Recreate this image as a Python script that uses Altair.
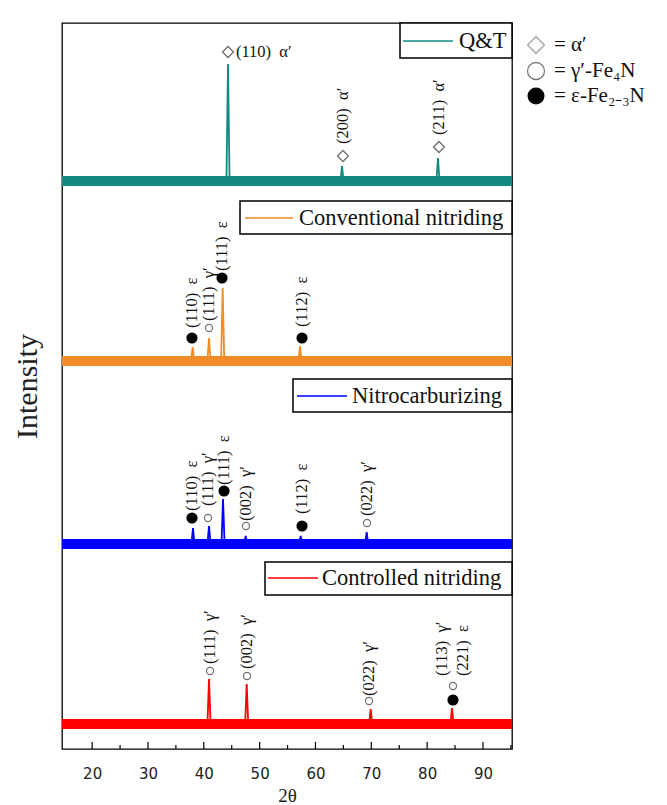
import altair as alt
import pandas as pd

# ---------------- data ----------------
X_MIN, X_MAX = 14.6, 95.2
Y_MAX = 726

SERIES = ["Q&T", "Conventional nitriding", "Nitrocarburizing", "Controlled nitriding"]
COLORS = ["#138a80", "#f28c28", "#0000ff", "#ff0000"]
BASELINES = [568, 388, 205, 25]
PEAK_POS = [
    [44.33, 64.75, 81.94],
    [38.0, 40.93, 43.38, 57.23],
    [38.06, 40.93, 43.44, 47.5, 57.35, 69.17],
    [40.93, 47.68, 69.89, 84.45],
]
PEAK_HEIGHT = [
    [117, 15, 23],
    [14, 23, 73, 15],
    [16, 18, 45, 8, 8, 12],
    [45, 40, 15, 16],
]
NOISE = 5          # half thickness of the noisy baseline band
PEAK_HALF = 0.28   # half width of a peak, degrees

NB = "\u00a0"  # non-breaking space keeps the gap in labels

# rotated peak labels
ANN_X = [64.93, 82.12,
         37.88, 40.93, 43.26, 57.59,
         37.88, 40.75, 43.62, 47.55, 57.59, 69.23,
         41.11, 47.73, 69.59, 82.66, 86.42]
ANN_Y = [605, 614,
         421, 428, 478, 422,
         238, 243, 264, 228, 235, 233,
         85, 80, 53, 73, 73]
ANN_TEXT = ["(200)" + NB * 2 + "α′", "(211)" + NB * 2 + "α′",
            "(110)" + NB * 2 + "ε", "(111)" + NB * 2 + "γ′", "(111)" + NB * 2 + "ε", "(112)" + NB * 2 + "ε",
            "(110)" + NB * 2 + "ε", "(111)" + NB * 2 + "γ′", "(111)" + NB * 2 + "ε",
            "(002)" + NB * 2 + "γ′", "(112)" + NB * 2 + "ε", "(022)" + NB * 2 + "γ′",
            "(111)" + NB * 2 + "γ′", "(002)" + NB * 2 + "γ′", "(022)" + NB * 2 + "γ′",
            "(113)" + NB * 2 + "γ′", "(221)" + NB * 2 + "ε"]

# horizontal label
HANN_X = [45.76]
HANN_Y = [697]
HANN_TEXT = ["(110)" + NB * 2 + "α′"]

# phase markers
DIAMOND_X = [44.33, 64.93, 82.12]
DIAMOND_Y = [697, 593, 602]
OPEN_X = [40.93, 40.75, 47.55, 69.23, 41.11, 47.73, 69.59, 84.63]
OPEN_Y = [421, 231, 223, 226, 78, 73, 48, 63]
FILLED_X = [37.88, 43.26, 57.59, 37.88, 43.62, 57.59, 84.63]
FILLED_Y = [411, 471, 411, 231, 258, 223, 49]

MAJOR_TICKS = [20, 30, 40, 50, 60, 70, 80, 90]
MINOR_TICKS = [25, 35, 45, 55, 65, 75, 85, 95]

# legend boxes (pixel layout inside plot)
BOX_LAYOUT = [
    # x0, x1, y0, y1, line x0, line x1, text x, y centre
    (338, 450, 0, 35, 341, 391, 397, 18),
    (178, 450, 178, 211, 183, 231, 237, 195),
    (231, 450, 356, 389, 235, 285, 290, 373),
    (203, 450, 539, 572, 206, 256, 260, 555),
]

PHASE_LABELS = ["= α′", "= γ′-Fe₄N", "= ε-Fe₂₋₃N"]

# ---------------- build tables ----------------
rows = []
band_rows = []
for s, base, pos, hts in zip(SERIES, BASELINES, PEAK_POS, PEAK_HEIGHT):
    pts = [(X_MIN, base)]
    for p, h in zip(pos, hts):
        pts += [(p - PEAK_HALF, base), (p, base + h), (p + PEAK_HALF, base)]
    pts.append((X_MAX, base))
    for t, v in pts:
        rows.append({"series": s, "theta": t, "intensity": v})
    for t in (X_MIN, X_MAX):
        band_rows.append({"series": s, "theta": t, "intensity": base - NOISE, "hi": base + NOISE})
spec = pd.DataFrame(rows)
band = pd.DataFrame(band_rows)

ann = pd.DataFrame({"theta": ANN_X, "intensity": ANN_Y, "label": ANN_TEXT})
hann = pd.DataFrame({"theta": HANN_X, "intensity": HANN_Y, "label": HANN_TEXT})
dia = pd.DataFrame({"theta": DIAMOND_X, "intensity": DIAMOND_Y})
opn = pd.DataFrame({"theta": OPEN_X, "intensity": OPEN_Y})
fil = pd.DataFrame({"theta": FILLED_X, "intensity": FILLED_Y})
ticks_major = pd.DataFrame({"theta": MAJOR_TICKS})
ticks_minor = pd.DataFrame({"theta": MINOR_TICKS})

SERIF = "Liberation Serif"

xscale = alt.Scale(domain=[X_MIN, X_MAX], nice=False, zero=False)
yscale = alt.Scale(domain=[0, Y_MAX], nice=False, zero=False)
color = alt.Color("series:N", scale=alt.Scale(domain=SERIES, range=COLORS), legend=None)

X = alt.X("theta:Q", scale=xscale, title="2θ",
          axis=alt.Axis(values=MAJOR_TICKS, ticks=False, domain=False, grid=False,
                        labelFont="DejaVu Sans", labelFontSize=15, labelColor="#222",
                        labelPadding=17, titleFont=SERIF, titleFontSize=19,
                        titleFontWeight="normal", titlePadding=5, titleColor="#222"))
Y = alt.Y("intensity:Q", scale=yscale, title="Intensity",
          axis=alt.Axis(labels=False, ticks=False, domain=False, grid=False,
                        titleFont=SERIF, titleFontSize=30, titleFontWeight="normal",
                        titlePadding=20, titleColor="#222"))

band_layer = alt.Chart(band).mark_area(opacity=1).encode(
    x=X, y=Y, y2="hi:Q", color=color, detail="series:N")
line_layer = alt.Chart(spec).mark_line(strokeWidth=1.8).encode(
    x=X, y=Y, color=color, detail="series:N")

ann_layer = alt.Chart(ann).mark_text(angle=270, align="left", baseline="middle",
                                     font=SERIF, fontSize=16.5, color="#111").encode(
    x=X, y=Y, text="label:N")
hann_layer = alt.Chart(hann).mark_text(align="left", baseline="middle",
                                       font=SERIF, fontSize=16.5, color="#111").encode(
    x=X, y=Y, text="label:N")
dia_layer = alt.Chart(dia).mark_point(shape="diamond", filled=False, size=120,
                                      color="#333", strokeWidth=1.3).encode(x=X, y=Y)
opn_layer = alt.Chart(opn).mark_point(shape="circle", filled=False, size=50,
                                      color="#333", strokeWidth=1.2).encode(x=X, y=Y)
fil_layer = alt.Chart(fil).mark_point(shape="circle", filled=True, size=125,
                                      color="black", opacity=1).encode(x=X, y=Y)

tmaj = alt.Chart(ticks_major).mark_rule(color="black", strokeWidth=1.2).encode(
    x=X, y=alt.value(Y_MAX), y2=alt.value(Y_MAX - 7))
tmin = alt.Chart(ticks_minor).mark_rule(color="black", strokeWidth=1.2).encode(
    x=X, y=alt.value(Y_MAX), y2=alt.value(Y_MAX - 4))

one = pd.DataFrame({"k": [0]})
legend_layers = []
for (s, c, lay) in zip(SERIES, COLORS, BOX_LAYOUT):
    x0, x1, y0, y1, lx0, lx1, tx, yc = lay
    legend_layers.append(alt.Chart(one).mark_rect(fill="white", stroke="black", strokeWidth=1.5).encode(
        x=alt.value(x0), x2=alt.value(x1), y=alt.value(y0), y2=alt.value(y1)))
    legend_layers.append(alt.Chart(one).mark_rule(color=c, strokeWidth=1.6).encode(
        x=alt.value(lx0), x2=alt.value(lx1), y=alt.value(yc)))
    legend_layers.append(alt.Chart(one).mark_text(align="left", baseline="middle", font=SERIF,
                                                  fontSize=22.5, color="#111", text=s).encode(
        x=alt.value(tx), y=alt.value(yc)))

# phase key outside the plot (right)
key_layers = [
    alt.Chart(one).mark_point(shape="diamond", filled=False, size=280, color="#888", strokeWidth=1.5).encode(
        x=alt.value(474), y=alt.value(22)),
    alt.Chart(one).mark_point(shape="circle", filled=False, size=290, color="#444", strokeWidth=1.3).encode(
        x=alt.value(474), y=alt.value(48)),
    alt.Chart(one).mark_point(shape="circle", filled=True, size=290, color="black", opacity=1).encode(
        x=alt.value(474), y=alt.value(73)),
]
for lbl, yy in zip(PHASE_LABELS, [22, 48, 73]):
    key_layers.append(alt.Chart(one).mark_text(align="left", baseline="middle", font=SERIF,
                                               fontSize=21, color="#111", text=lbl).encode(
        x=alt.value(492), y=alt.value(yy)))

chart = alt.layer(
    band_layer, line_layer, tmaj, tmin, *legend_layers,
    dia_layer, opn_layer, fil_layer, ann_layer, hann_layer, *key_layers
).properties(
    width=450, height=Y_MAX,
    padding={"left": 4, "top": 14, "right": 0, "bottom": 0},
    background="white",
).configure_view(stroke="black", strokeWidth=1.3)

chart.save("out.html", embed_options={"renderer": "svg", "actions": False})
